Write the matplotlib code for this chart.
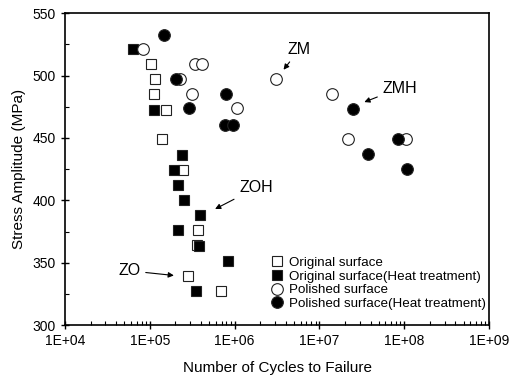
import matplotlib
matplotlib.use("Agg")
import matplotlib.pyplot as plt
from matplotlib.ticker import FixedLocator, LogLocator, MultipleLocator, NullFormatter

plt.rcParams['font.family'] = ['Liberation Sans', 'DejaVu Sans']

# Original surface (open squares)
orig_n = [1.03e5, 1.15e5, 1.12e5, 1.55e5, 1.38e5, 2.48e5, 3.67e5, 3.6e5, 2.8e5, 6.9e5]
orig_s = [509, 497, 485, 472.5, 449, 424, 376, 364, 339, 327]

# Original surface (Heat treatment) (filled squares)
orig_ht_n = [6.3e4, 1.13e5, 2.4e5, 1.93e5, 2.17e5, 2.5e5, 3.9e5, 2.17e5, 3.8e5, 8.3e5, 3.47e5]
orig_ht_s = [521, 472.5, 436.5, 424.5, 412.5, 400, 388, 376, 363.5, 351.5, 327.5]

# Polished surface (open circles)
pol_n = [8.4e4, 3.4e5, 4.1e5, 2.27e5, 3.1e5, 1.06e6, 3.08e6, 1.42e7, 2.19e7, 1.05e8]
pol_s = [521, 509, 509, 497, 485, 474, 497, 485, 449, 449]

# Polished surface (Heat treatment) (filled circles)
pol_ht_n = [1.47e5, 2.04e5, 7.9e5, 2.9e5, 7.6e5, 9.5e5, 2.47e7, 3.78e7, 8.5e7, 1.07e8]
pol_ht_s = [533, 497, 485, 474, 460.5, 460.5, 473, 437, 449, 425]

x_ticks = [1e4, 1e5, 1e6, 1e7, 1e8, 1e9]
x_labels = ["1E+04", "1E+05", "1E+06", "1E+07", "1E+08", "1E+09"]

fig = plt.figure(figsize=(5.1, 3.76), dpi=100)
ax = fig.add_axes([0.1275, 0.1356, 0.959 - 0.1275, 0.9646 - 0.1356])

sq = dict(marker='s', linestyle='none', markersize=7.4, markeredgewidth=0.8,
          markeredgecolor='#222222')
ci = dict(marker='o', linestyle='none', markersize=8.4, markeredgewidth=0.8,
          markeredgecolor='#222222')

ax.plot(orig_n, orig_s, markerfacecolor='white', label='Original surface', **sq)
ax.plot(orig_ht_n, orig_ht_s, markerfacecolor='black',
        label='Original surface(Heat treatment)', **sq)
ax.plot(pol_n, pol_s, markerfacecolor='white', label='Polished surface', **ci)
ax.plot(pol_ht_n, pol_ht_s, markerfacecolor='black',
        label='Polished surface(Heat treatment)', **ci)

ax.set_xscale('log')
ax.set_xlim(1e4, 1e9)
ax.set_ylim(300, 550)
ax.xaxis.set_major_locator(FixedLocator(x_ticks))
ax.set_xticklabels(x_labels)
ax.xaxis.set_minor_locator(LogLocator(base=10, subs=range(2, 10)))
ax.xaxis.set_minor_formatter(NullFormatter())
ax.yaxis.set_major_locator(MultipleLocator(50))
ax.yaxis.set_minor_locator(MultipleLocator(25))

ax.tick_params(which='major', direction='inout', length=6, width=1, labelsize=10)
ax.tick_params(which='minor', direction='in', length=3, width=0.8)
for sp in ax.spines.values():
    sp.set_linewidth(1.2)

ax.set_xlabel("Number of Cycles to Failure", fontsize=11, labelpad=9)
ax.set_ylabel("Stress Amplitude (MPa)", fontsize=11, labelpad=5)

arrow = dict(arrowstyle='-|>', color='black', lw=0.8, mutation_scale=8)
ax.annotate("ZM", xy=(3.6e6, 503), xytext=(5.8e6, 521), fontsize=11.5,
            ha='center', va='center', arrowprops=arrow)
ax.annotate("ZMH", xy=(3.15e7, 478), xytext=(8.9e7, 490), fontsize=11.5,
            ha='center', va='center', arrowprops=arrow)
ax.annotate("ZOH", xy=(5.5e5, 392), xytext=(1.79e6, 410), fontsize=11.5,
            ha='center', va='center', arrowprops=arrow)
ax.annotate("ZO", xy=(2.07e5, 339.5), xytext=(5.7e4, 343.5), fontsize=11.5,
            ha='center', va='center', arrowprops=arrow)

ax.legend(loc='upper left', bbox_to_anchor=(0.472, 0.236), frameon=False,
          fontsize=9.6, handletextpad=0.4, labelspacing=0.1,
          borderaxespad=0, handlelength=1.0)

fig.savefig("out.png", dpi=100)
